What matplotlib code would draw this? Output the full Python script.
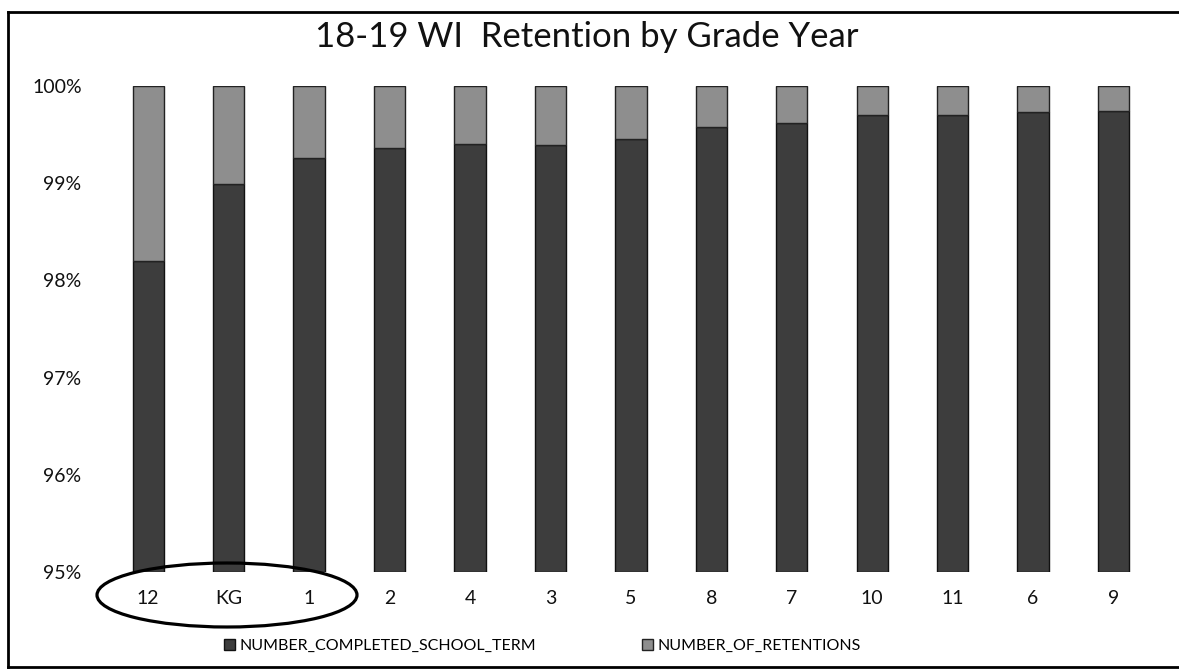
import numpy as np
import matplotlib.pyplot as plt
from matplotlib.patches import Ellipse
from matplotlib.lines import Line2D
from matplotlib.ticker import PercentFormatter

plt.rcParams['font.family'] = ['Lato', 'DejaVu Sans']

# values (percent of each grade)
grades = ['12', 'KG', '1', '2', '4', '3', '5', '8', '7', '10', '11', '6', '9']
completed = [98.20, 98.99, 99.26, 99.36, 99.40, 99.39, 99.45, 99.58, 99.62, 99.70, 99.70, 99.73, 99.74]
retentions = [100 - c for c in completed]

dark = '#3d3d3d'
light = '#8e8e8e'

fig = plt.figure(figsize=(11.79, 6.69), dpi=100)
ax = fig.add_axes([0.0916, 0.145, 0.887, 0.7264])

x = np.arange(len(grades))
ax.bar(x, np.array(completed) - 95, bottom=95, width=0.39, color=dark,
       edgecolor='#111111', linewidth=1, label='NUMBER_COMPLETED_SCHOOL_TERM')
ax.bar(x, retentions, bottom=completed, width=0.39, color=light,
       edgecolor='#222222', linewidth=1, label='NUMBER_OF_RETENTIONS')

ax.set_xlim(-0.5, len(grades) - 0.5)
ax.set_ylim(95, 100)
ax.set_yticks([95, 96, 97, 98, 99, 100])
ax.yaxis.set_major_formatter(PercentFormatter(decimals=0))
ax.set_xticks(x)
ax.set_xticklabels(grades)
ax.tick_params(axis='y', length=0, pad=19, labelsize=14, colors='#111111')
ax.tick_params(axis='x', length=0, pad=13, labelsize=14, colors='#111111')
for s in ax.spines.values():
    s.set_visible(False)

fig.text(0.4975, 0.945, '18-19 WI  Retention by Grade Year', ha='center', va='center',
         fontsize=25, color='#111111')

fig.legend(loc='center', bbox_to_anchor=(0.46, 1 - 646 / 669), ncol=2, frameon=False,
           fontsize=11.5, handlelength=0.7, handleheight=0.7, handletextpad=0.3,
           columnspacing=6.6)

# circle around the first three grades
fig.add_artist(Ellipse((227 / 1179, 1 - 595 / 669), 260 / 1179, 64 / 669,
                       transform=fig.transFigure, fill=False, edgecolor='black',
                       linewidth=2.3, zorder=10))

# scanned border
fig.add_artist(Line2D([8 / 1179, 8 / 1179], [1 - 12 / 669, 1 - 667 / 669],
                      transform=fig.transFigure, color='black', linewidth=2))
fig.add_artist(Line2D([8 / 1179, 1], [1 - 12 / 669, 1 - 12 / 669],
                      transform=fig.transFigure, color='black', linewidth=2))
fig.add_artist(Line2D([8 / 1179, 1], [1 - 667 / 669, 1 - 667 / 669],
                      transform=fig.transFigure, color='black', linewidth=2))

fig.savefig('out.png', dpi=100)
